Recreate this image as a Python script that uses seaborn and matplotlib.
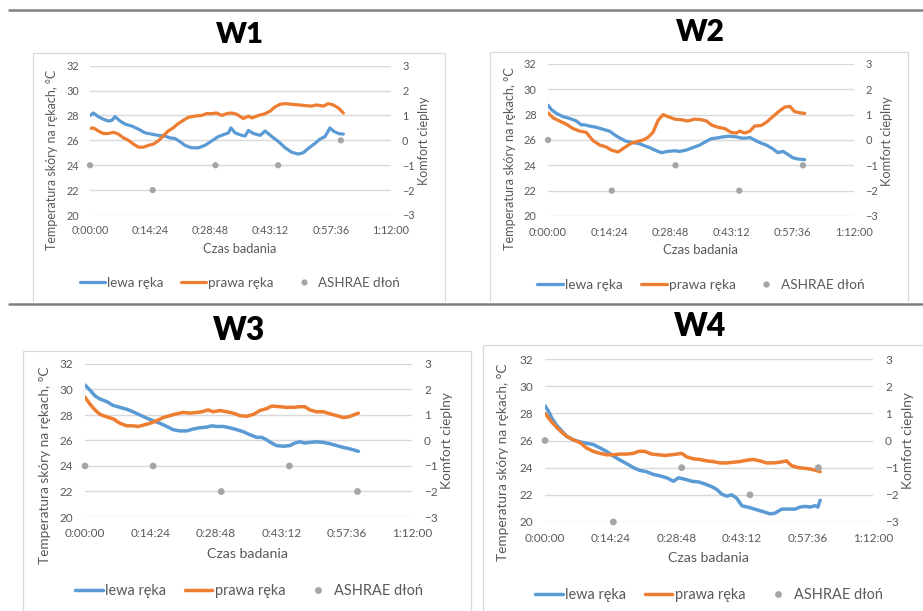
import matplotlib
matplotlib.use("Agg")
import matplotlib.pyplot as plt
import seaborn as sns
import pandas as pd
from matplotlib.lines import Line2D

sns.set_theme(style="white")
plt.rcParams["font.family"] = ["Lato", "DejaVu Sans"]

# ---- time axis (minutes) -------------------------------------------------
TICK_MIN = [0, 14.4, 28.8, 43.2, 57.6, 72]
TICK_LABELS = ["0:00:00", "0:14:24", "0:28:48", "0:43:12", "0:57:36", "1:12:00"]
TEMP_TICKS = [20, 22, 24, 26, 28, 30, 32]
KOMFORT_TICKS = [-3, -2, -1, 0, 1, 2, 3]

ASHRAE_T = [0, 15, 30, 45, 60]

SERIES_NAMES = ["lewa ręka", "prawa ręka", "ASHRAE dłoń"]

# ---- W1 ------------------------------------------------------------------
W1_LEWA_T = [0, 0.8, 2.0, 3.2, 4.4, 5.2, 6.0, 7.2, 8.4, 10.0, 11.6, 13.2, 14.8, 16.3,
             17.9, 19.1, 20.3, 21.5, 22.7, 24.3, 25.9, 27.5, 29.1, 30.7, 32.3, 33.1,
             33.7, 34.7, 36.3, 37.1, 37.9, 39.1, 40.7, 41.9, 43.5, 45.1, 46.7, 48.2,
             49.8, 51.0, 52.2, 53.8, 55.0, 56.2, 57.4, 58.2, 59.4, 60.6]
W1_LEWA = [28.0, 28.2, 27.9, 27.7, 27.55, 27.6, 27.9, 27.55, 27.3, 27.15, 26.9, 26.6,
           26.5, 26.4, 26.35, 26.2, 26.15, 25.9, 25.6, 25.4, 25.4, 25.6, 25.95, 26.3,
           26.5, 26.6, 27.0, 26.6, 26.4, 26.35, 26.8, 26.55, 26.4, 26.75, 26.3, 25.9,
           25.4, 25.05, 24.9, 25.0, 25.35, 25.75, 26.1, 26.3, 27.0, 26.75, 26.55, 26.5]
W1_PRAWA_T = [0, 0.8, 2.0, 3.2, 4.4, 5.6, 6.8, 8.0, 9.2, 10.4, 11.6, 12.8, 14.0, 15.2,
              16.3, 17.5, 18.7, 19.9, 21.1, 22.3, 23.5, 25.1, 26.7, 27.9, 29.1, 30.3,
              31.5, 32.7, 33.9, 35.1, 36.7, 37.9, 38.7, 40.3, 41.9, 43.1, 44.3, 45.5,
              46.7, 48.2, 49.8, 51.4, 53.0, 54.2, 55.8, 57.0, 58.2, 59.4, 60.6]
W1_PRAWA = [26.95, 27.0, 26.75, 26.55, 26.55, 26.65, 26.5, 26.2, 26.0, 25.7, 25.45,
            25.45, 25.6, 25.7, 25.95, 26.35, 26.75, 27.0, 27.35, 27.6, 27.85, 27.95,
            28.0, 28.15, 28.15, 28.2, 28.0, 28.15, 28.2, 28.1, 27.75, 27.95, 27.8, 28.0,
            28.15, 28.35, 28.7, 28.9, 28.95, 28.9, 28.85, 28.8, 28.75, 28.85, 28.75,
            28.95, 28.85, 28.6, 28.2]
W1_ASHRAE = [-1, -2, -1, -1, 0]

# ---- W2 ------------------------------------------------------------------
W2_LEWA_T = [0, 0.8, 2.0, 3.5, 5.1, 6.7, 7.8, 8.6, 9.8, 11.4, 12.9, 14.5, 15.7, 16.9,
             18.4, 20.0, 21.6, 22.7, 23.9, 25.5, 26.7, 28.2, 29.8, 31.0, 32.5, 34.1,
             35.7, 37.3, 38.4, 39.6, 41.2, 42.7, 44.3, 45.5, 46.7, 47.5, 48.6, 49.8,
             51.4, 52.9, 54.1, 55.3, 56.5, 57.6, 58.8, 60.4]
W2_LEWA = [28.75, 28.4, 28.1, 27.85, 27.7, 27.5, 27.2, 27.2, 27.1, 27.0, 26.85, 26.7,
           26.4, 26.15, 25.9, 25.8, 25.7, 25.55, 25.4, 25.15, 25.0, 25.1, 25.15, 25.1,
           25.2, 25.4, 25.6, 25.9, 26.1, 26.15, 26.25, 26.3, 26.25, 26.15, 26.15, 26.2,
           26.0, 25.8, 25.6, 25.3, 25.0, 25.1, 24.85, 24.6, 24.5, 24.45]
W2_PRAWA_T = [0, 1.2, 2.7, 4.3, 5.9, 7.5, 9.0, 10.6, 12.2, 13.7, 14.9, 16.5, 18.0, 19.6,
              21.2, 22.4, 23.5, 24.7, 25.9, 27.1, 28.2, 29.8, 31.4, 32.9, 34.5, 36.1,
              37.3, 38.4, 40.0, 41.6, 43.1, 44.3, 45.1, 46.3, 47.5, 48.6, 50.2, 51.4,
              52.9, 54.5, 55.7, 56.9, 58.0, 59.2, 60.4]
W2_PRAWA = [28.15, 27.75, 27.5, 27.25, 26.9, 26.7, 26.6, 25.95, 25.6, 25.45, 25.2,
            25.05, 25.4, 25.75, 25.9, 26.0, 26.2, 26.6, 27.55, 28.0, 27.85, 27.65, 27.6,
            27.5, 27.65, 27.6, 27.5, 27.2, 27.0, 26.9, 26.6, 26.55, 26.7, 26.55, 26.7,
            27.1, 27.15, 27.4, 27.85, 28.3, 28.6, 28.65, 28.25, 28.15, 28.1]
W2_ASHRAE = [0, -2, -1, -2, -1]

# ---- W3 ------------------------------------------------------------------
W3_LEWA_T = [0, 1.1, 2.2, 3.3, 4.8, 6.2, 7.7, 9.2, 10.6, 12.1, 13.6, 15.0, 16.5, 18.0,
             19.4, 20.9, 22.4, 23.8, 25.3, 26.8, 27.9, 29.0, 30.4, 31.9, 33.4, 34.8,
             36.3, 37.8, 38.9, 40.0, 41.1, 42.2, 43.7, 45.1, 46.2, 47.3, 48.4, 49.5,
             51.0, 52.5, 53.9, 55.4, 56.9, 58.3, 60.2]
W3_LEWA = [30.35, 29.95, 29.5, 29.25, 29.05, 28.75, 28.6, 28.45, 28.25, 28.0, 27.75,
           27.55, 27.35, 27.1, 26.85, 26.75, 26.75, 26.9, 27.0, 27.05, 27.15, 27.1, 27.1,
           27.0, 26.85, 26.7, 26.45, 26.25, 26.25, 26.05, 25.8, 25.6, 25.55, 25.6, 25.8,
           25.9, 25.8, 25.85, 25.9, 25.85, 25.75, 25.6, 25.45, 25.35, 25.15]
W3_PRAWA_T = [0, 1.1, 2.2, 3.3, 4.8, 6.2, 7.7, 9.2, 10.6, 11.7, 12.8, 14.3, 15.8, 17.2,
              18.7, 20.2, 21.6, 23.1, 24.6, 25.7, 27.1, 28.2, 29.7, 31.2, 32.6, 34.1,
              35.6, 37.1, 38.5, 40.0, 41.1, 42.9, 44.4, 45.9, 47.3, 48.4, 49.5, 51.0,
              52.5, 53.9, 55.4, 56.9, 58.0, 59.1, 60.2]
W3_PRAWA = [29.4, 28.85, 28.4, 28.05, 27.85, 27.7, 27.35, 27.15, 27.15, 27.1, 27.2,
            27.35, 27.55, 27.8, 27.95, 28.1, 28.2, 28.15, 28.2, 28.25, 28.4, 28.25, 28.35,
            28.25, 28.15, 27.95, 27.9, 28.05, 28.35, 28.5, 28.7, 28.65, 28.6, 28.6, 28.65,
            28.65, 28.4, 28.25, 28.25, 28.1, 27.95, 27.8, 27.85, 28.0, 28.15]
W3_ASHRAE = [-1, -1, -2, -1, -2]

# ---- W4 ------------------------------------------------------------------
W4_LEWA_T = [0, 0.7, 1.5, 2.6, 3.7, 4.8, 6.2, 7.7, 9.1, 10.6, 12.1, 13.5, 15.0, 16.5,
             17.9, 19.4, 20.8, 22.3, 23.8, 25.2, 26.7, 28.2, 29.3, 30.7, 32.2, 33.7,
             35.1, 36.6, 37.7, 38.8, 39.9, 41.0, 42.1, 43.2, 45.0, 46.5, 48.0, 49.4,
             50.5, 51.2, 52.0, 53.4, 54.9, 56.0, 57.1, 58.2, 59.3, 59.9, 60.4]
W4_LEWA = [28.55, 28.2, 27.65, 27.1, 26.7, 26.3, 26.05, 25.9, 25.8, 25.7, 25.45, 25.2,
           24.85, 24.55, 24.3, 24.0, 23.8, 23.7, 23.5, 23.4, 23.25, 23.0, 23.25, 23.15,
           23.0, 22.95, 22.8, 22.6, 22.4, 22.05, 21.9, 22.0, 21.75, 21.2, 21.05, 20.9,
           20.75, 20.6, 20.65, 20.8, 20.95, 20.95, 20.95, 21.1, 21.15, 21.1, 21.2, 21.1,
           21.6]
W4_PRAWA_T = [0, 0.7, 1.5, 2.6, 3.7, 4.8, 6.2, 7.7, 9.1, 10.6, 12.1, 13.5, 15.0, 16.5,
              17.9, 19.4, 20.5, 21.9, 23.4, 24.9, 26.3, 27.8, 28.9, 30.0, 31.1, 32.6,
              34.0, 35.5, 36.9, 38.4, 39.9, 41.3, 42.8, 44.3, 45.7, 47.2, 48.6, 50.1,
              51.6, 53.0, 54.1, 55.6, 57.1, 58.2, 59.5, 60.4]
W4_PRAWA = [28.0, 27.7, 27.35, 26.95, 26.6, 26.3, 26.05, 25.85, 25.45, 25.2, 25.05,
            24.95, 24.95, 25.0, 25.0, 25.05, 25.2, 25.2, 25.0, 24.95, 24.9, 24.95, 25.0,
            25.05, 24.8, 24.65, 24.6, 24.5, 24.45, 24.35, 24.35, 24.4, 24.45, 24.55, 24.6,
            24.5, 24.35, 24.35, 24.4, 24.5, 24.15, 24.0, 23.95, 23.9, 23.8, 23.7]
W4_ASHRAE = [0, -3, -1, -2, -1]

BLUE = "#5b9bd5"
ORANGE = "#ed7d31"
GREY = "#a5a5a5"
TEXT = "#595959"
GRID = "#d9d9d9"

W, H = 923, 611
fig = plt.figure(figsize=(W / 100, H / 100), dpi=100)
fig.patch.set_facecolor("white")


def fx(x):
    return x / W


def fy(y):
    return 1 - y / H


# page rules above each row of charts
for yy in (10, 304):
    fig.add_artist(Line2D([fx(9), fx(923)], [fy(yy), fy(yy)], color="#808080", lw=1.8))

PANELS = [
    dict(name="W1", lewa=(W1_LEWA_T, W1_LEWA), prawa=(W1_PRAWA_T, W1_PRAWA), ashrae=W1_ASHRAE,
         frame=(33, 53, 445, 301), plot=(90, 65.7, 391, 215), title=(240, 35),
         ylab=(52, 160), rlab=(424, 141), xlab=(240, 249), leg=(240, 283), sc=1.0),
    dict(name="W2", lewa=(W2_LEWA_T, W2_LEWA), prawa=(W2_PRAWA_T, W2_PRAWA), ashrae=W2_ASHRAE,
         frame=(490, 52, 908, 301), plot=(548, 64, 854, 216), title=(700, 32),
         ylab=(510, 159), rlab=(887, 141), xlab=(700, 250), leg=(701, 285), sc=1.02),
    dict(name="W3", lewa=(W3_LEWA_T, W3_LEWA), prawa=(W3_PRAWA_T, W3_PRAWA), ashrae=W3_ASHRAE,
         frame=(23, 351, 471, 610), plot=(85, 364, 412, 517), title=(239, 331),
         ylab=(45, 465), rlab=(447, 441), xlab=(248, 554), leg=(249, 591), sc=1.09),
    dict(name="W4", lewa=(W4_LEWA_T, W4_LEWA), prawa=(W4_PRAWA_T, W4_PRAWA), ashrae=W4_ASHRAE,
         frame=(483, 345, 930, 620), plot=(545, 359, 873, 522), title=(700, 327),
         ylab=(503, 462), rlab=(908, 441), xlab=(708, 558), leg=(709, 595), sc=1.09),
]

for p in PANELS:
    sc = p["sc"]
    x0, y0, x1, y1 = p["frame"]
    fig.add_artist(Line2D([fx(x0), fx(x0), fx(x1), fx(x1)], [fy(y1), fy(y0), fy(y0), fy(y1)],
                          color=GRID, lw=0.9))

    px0, py0, px1, py1 = p["plot"]
    ax = fig.add_axes([fx(px0), fy(py1), (px1 - px0) / W, (py1 - py0) / H])
    ax.set_facecolor("none")

    df = pd.concat([
        pd.DataFrame({"t": p["lewa"][0], "v": p["lewa"][1], "seria": SERIES_NAMES[0]}),
        pd.DataFrame({"t": p["prawa"][0], "v": p["prawa"][1], "seria": SERIES_NAMES[1]}),
    ], ignore_index=True)
    sns.lineplot(data=df, x="t", y="v", hue="seria", estimator=None,
                 palette={SERIES_NAMES[0]: BLUE, SERIES_NAMES[1]: ORANGE},
                 lw=2.3 * sc, legend=False, ax=ax)

    ax.set_xlim(0, 72)
    ax.set_ylim(20, 32)
    ax.set_xticks(TICK_MIN)
    ax.set_xticklabels(TICK_LABELS)
    ax.set_yticks(TEMP_TICKS)
    ax.grid(False)
    ax.grid(axis="y", color=GRID, lw=1.0)
    for s in ax.spines.values():
        s.set_visible(False)
    ax.tick_params(axis="both", length=0, labelsize=7.8 * sc, labelcolor=TEXT)
    ax.tick_params(axis="x", pad=7.5 * sc)
    ax.tick_params(axis="y", pad=8 * sc)
    ax.set_xlabel("")
    ax.set_ylabel("")

    ax2 = ax.twinx()
    sns.scatterplot(x=ASHRAE_T, y=p["ashrae"], color=GREY, s=20 * sc * sc,
                    edgecolor="none", ax=ax2, zorder=3, clip_on=False)
    ax2.set_ylim(-3, 3)
    ax2.set_yticks(KOMFORT_TICKS)
    ax2.grid(False)
    for s in ax2.spines.values():
        s.set_visible(False)
    ax2.tick_params(axis="y", length=0, labelsize=7.8 * sc, labelcolor=TEXT, pad=8 * sc)
    ax2.set_ylabel("")

    fig.text(fx(p["title"][0]), fy(p["title"][1]), p["name"], ha="center", va="center",
             fontsize=21 * sc, fontweight="heavy", color="black")
    fig.text(fx(p["ylab"][0]), fy(p["ylab"][1]), "Temperatura skóry na rękach, °C",
             rotation=90, ha="center", va="center", fontsize=9 * sc, color=TEXT)
    fig.text(fx(p["rlab"][0]), fy(p["rlab"][1]), "Komfort cieplny",
             rotation=90, ha="center", va="center", fontsize=9 * sc, color=TEXT)
    fig.text(fx(p["xlab"][0]), fy(p["xlab"][1]), "Czas badania",
             ha="center", va="center", fontsize=9.3 * sc, color=TEXT)

    handles = [
        Line2D([], [], color=BLUE, lw=2.3 * sc),
        Line2D([], [], color=ORANGE, lw=2.3 * sc),
        Line2D([], [], color=GREY, marker="o", ls="", markersize=4.5 * sc, markeredgewidth=0),
    ]
    fig.legend(handles, SERIES_NAMES, loc="center", ncol=3,
               bbox_to_anchor=(fx(p["leg"][0]), fy(p["leg"][1])), frameon=False,
               fontsize=9.6 * sc, labelcolor=TEXT, handlelength=1.9, handletextpad=0.15,
               columnspacing=1.3, borderpad=0, borderaxespad=0)

fig.savefig("out.png", dpi=100, facecolor="white")
